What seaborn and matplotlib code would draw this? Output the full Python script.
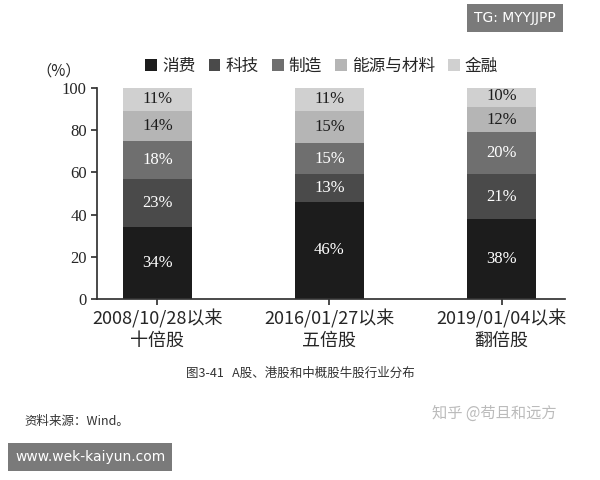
import numpy as np
import pandas as pd
import matplotlib
matplotlib.use('Agg')
import matplotlib.pyplot as plt
import seaborn as sns

sns.set_theme(style="white")
plt.rcParams['font.family'] = ['Noto Sans CJK SC', 'DejaVu Sans']

periods = ['2008/10/28以来\n十倍股', '2016/01/27以来\n五倍股', '2019/01/04以来\n翻倍股']
sectors = ['消费', '科技', '制造', '能源与材料', '金融']
consume = [34, 46, 38]
tech = [23, 13, 21]
manuf = [18, 15, 20]
energy = [14, 15, 12]
finance = [11, 11, 10]
colors = ['#1c1c1c', '#4a4a4a', '#6f6f6f', '#b5b5b5', '#d0d0d0']
label_colors = ['white', 'white', 'white', '#1c1c1c', '#1c1c1c']

series = [consume, tech, manuf, energy, finance]
serif = ['Liberation Serif', 'Noto Sans CJK SC']

fig = plt.figure(figsize=(6, 4.8), dpi=100)
ax = fig.add_axes([0.162, 0.377, 0.78, 0.44])
bottom = np.zeros(3)
for name, vals, c, lc in zip(sectors, series, colors, label_colors):
    df = pd.DataFrame({'x': periods, 'y': vals})
    sns.barplot(data=df, x='x', y='y', color=c, bottom=bottom, width=0.4,
                ax=ax, label=name, saturation=1, edgecolor='none')
    for i, v in enumerate(vals):
        ax.text(i, bottom[i] + v / 2, f'{v}%', ha='center', va='center',
                color=lc, fontsize=12, family=serif)
    bottom += np.array(vals)

ax.set_xlim(-0.35, 2.37)
ax.set_ylim(0, 100)
ax.set_yticks([0, 20, 40, 60, 80, 100])
ax.set_xlabel('')
ax.set_ylabel('')
for lbl in ax.get_yticklabels():
    lbl.set_family(serif)
ax.tick_params(axis='y', labelsize=12, left=True, length=4, color='#333333')
ax.tick_params(axis='x', labelsize=13, bottom=True, length=4, color='#333333')
for s in ['top', 'right']:
    ax.spines[s].set_visible(False)
for s in ['left', 'bottom']:
    ax.spines[s].set_color('#333333')
ax.text(-0.13, 1.06, '（%）', transform=ax.transAxes, fontsize=11, ha='left')
ax.legend(ncol=5, loc='lower center', bbox_to_anchor=(0.48, 0.99), frameon=False,
          fontsize=12, handlelength=0.7, handleheight=0.7, columnspacing=0.8,
          handletextpad=0.3)

fig.text(0.5, 0.215, '图3-41   A股、港股和中概股牛股行业分布', ha='center', fontsize=9, color='#333333')
fig.text(0.04, 0.115, '资料来源：Wind。', fontsize=9, color='#333333')
fig.text(0.72, 0.13, '知乎 @苟且和远方', fontsize=11, color='#bbbbbb')
fig.text(0.79, 0.955, 'TG: MYYJJPP', fontsize=10, color='white',
         family='DejaVu Sans',
         bbox=dict(facecolor='#7a7a7a', edgecolor='none', pad=5))
fig.text(0.025, 0.04, 'www.wek-kaiyun.com', fontsize=10, color='white',
         family='DejaVu Sans',
         bbox=dict(facecolor='#7a7a7a', edgecolor='none', pad=5))

fig.savefig('out.png', dpi=100)
